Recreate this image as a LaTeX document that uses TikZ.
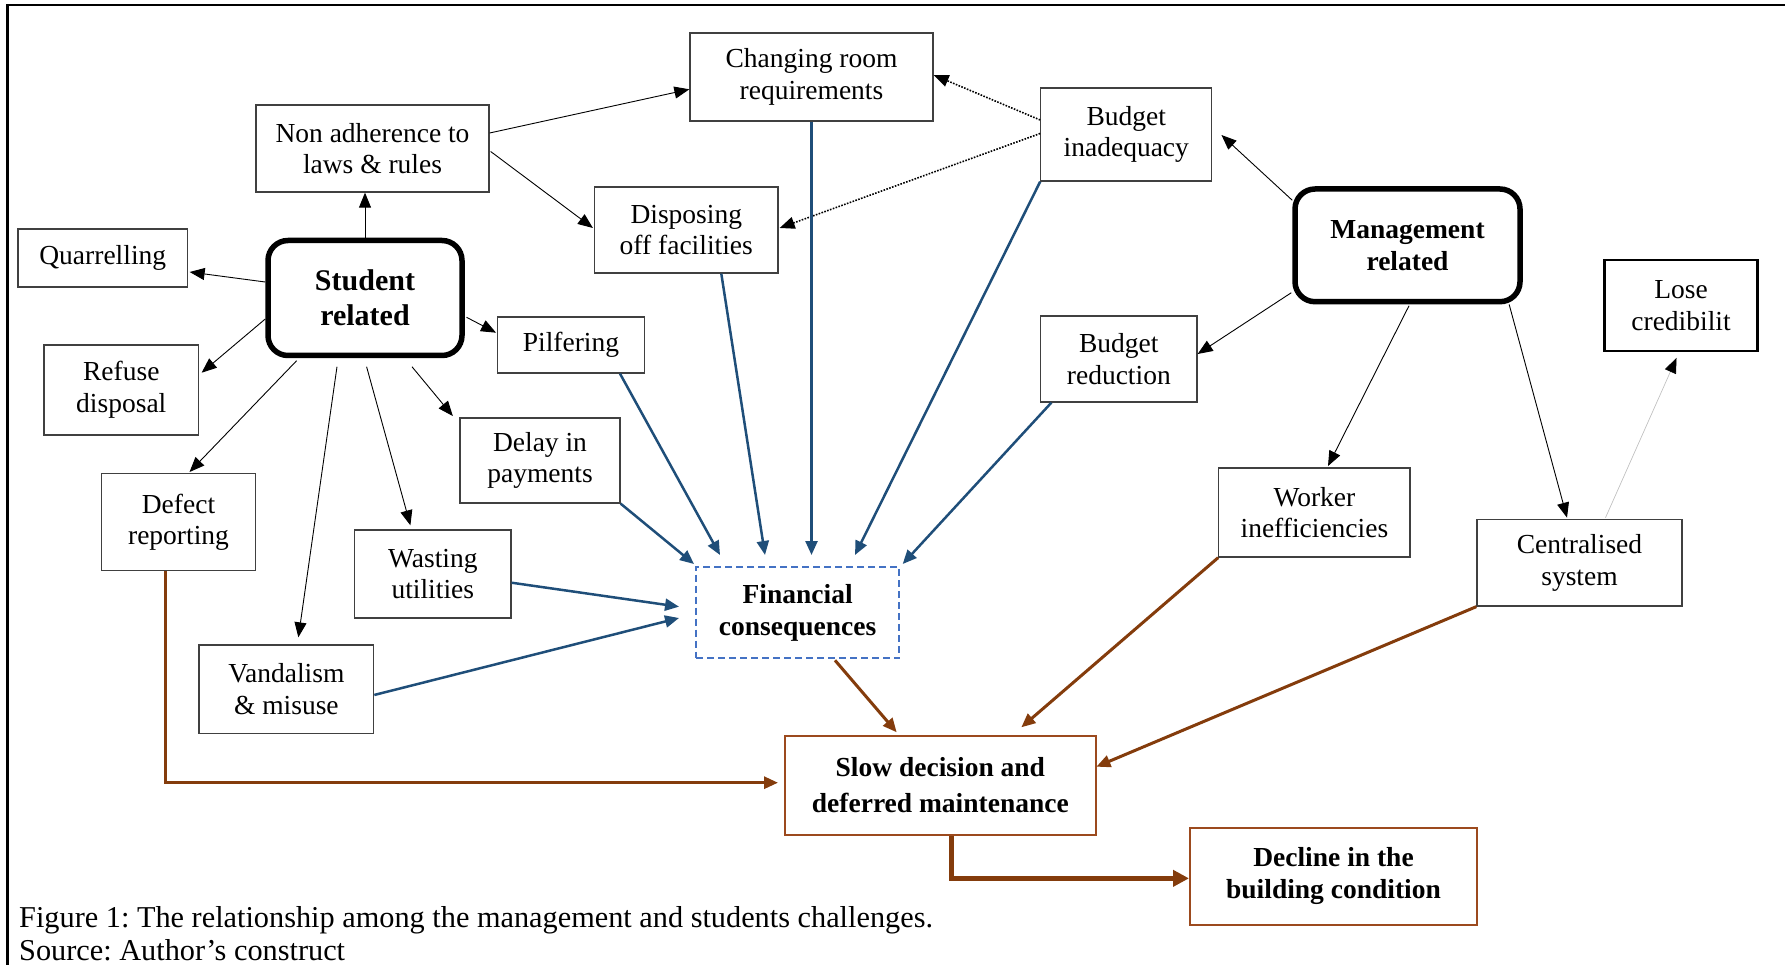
\documentclass[tikz,border=0pt]{standalone}
\usepackage{fontspec}
\setmainfont{Liberation Serif}
\usetikzlibrary{arrows.meta,calc}
\definecolor{bl}{HTML}{1F4E79}
\definecolor{br}{HTML}{843C0C}
\definecolor{dashblue}{HTML}{4472C4}
\definecolor{boxgray}{HTML}{404040}
\definecolor{boxbrown}{HTML}{9C4A1E}
\newcommand\rf{\fontsize{27.5}{31.6}\selectfont}
\newcommand\bfn{\fontsize{27.5}{32}\selectfont\bfseries}
\frenchspacing
\begin{document}
\begin{tikzpicture}[x=1pt,y=-1pt,
  box/.style={draw=boxgray,line width=1.3pt,inner sep=0pt,align=center,font=\rf},
  sz/.style 2 args={minimum width=#1pt,minimum height=#2pt},
  core/.style={draw=black,line width=5.5pt,rounded corners=20pt,inner sep=0pt,align=center,font=\bfn},
  blk/.style={draw=black,line width=0.9pt,-{Triangle[length=15pt,width=12pt]}},
  dotarr/.style={draw=black,line width=1.6pt,dash pattern=on 1.6pt off 1.4pt,-{Triangle[length=15pt,width=12pt]}},
  blu/.style={draw=bl,line width=2.5pt,-{Triangle[length=14pt,width=12pt]}},
  brn/.style={draw=br,line width=3pt,-{Triangle[length=14pt,width=12pt]}},
  captxt/.style={anchor=base west,inner sep=0pt,font=\fontsize{30.3}{32}\selectfont},
]
\useasboundingbox (0,0) rectangle (1785,965);
\draw[line width=2.5pt] (7.5,965) -- (7.5,5) -- (1785,5);

\node[box,sz={233}{87}] (nonad) at (372.5,148.5) {Non adherence to\\laws \& rules};
\node[box,sz={243}{88}] (chg) at (811.5,77) {Changing room\\requirements};
\node[box,sz={171}{93}] (binad) at (1126.3,134.5) {Budget\\inadequacy};
\node[box,sz={183.4}{86}] (disp) at (686.3,230) {Disposing\\off facilities};
\node[box,sz={156.4}{86}] (bred) at (1118.8,359) {Budget\\reduction};
\node[box,sz={169.5}{58}] (quar) at (102.75,258) {Quarrelling};
\node[core,sz={194}{115},font=\fontsize{30}{35}\selectfont\bfseries] (stud) at (365,298) {Student\\related};
\node[box,sz={154.6}{90}] (refuse) at (121.3,390) {Refuse\\disposal};
\node[box,sz={147}{56}] (pilf) at (571,345) {Pilfering};
\node[box,sz={160}{85}] (delay) at (540,460.5) {Delay in\\payments};
\node[box,sz={153.8}{97}] (defect) at (178.5,522.2) {Defect\\reporting};
\node[box,sz={156.2}{88}] (waste) at (432.8,574) {Wasting\\utilities};
\node[box,sz={174.7}{88.7}] (vand) at (286.35,689.35) {Vandalism\\\& misuse};
\node[box,draw=dashblue,line width=2pt,dash pattern=on 7pt off 4pt,sz={203.3}{91.6},font=\bfn] (fin) at (797.65,612.5) {Financial\\consequences};
\node[box,draw=boxbrown,line width=2pt,sz={311.3}{99},font=\fontsize{27.5}{36.4}\selectfont\bfseries] (slow) at (940.35,785.2) {Slow decision and\\deferred maintenance};
\node[box,draw=boxbrown,line width=2pt,sz={287}{97.3},font=\bfn] (decl) at (1333.5,876.35) {Decline in the\\building condition};
\node[core,sz={225}{112.7}] (mgmt) at (1407.5,245.35) {Management\\related};
\node[box,draw=black,line width=2.5pt,sz={152.7}{91}] (lose) at (1681,305.5) {Lose\\credibilit};
\node[box,sz={191.2}{89}] (worker) at (1314.4,512.5) {Worker\\inefficiencies};
\node[box,sz={205}{86.3}] (cent) at (1579.5,562.85) {Centralised\\system};

\node[captxt] (cap1) at (19,927) {Figure 1: The relationship among the management and students challenges.};
\node[captxt] (cap2) at (19,960) {Source: Author’s construct};

% student related
\draw[blk] (stud.north) -- (stud.north |- nonad.south);
\draw[blk] ([shift={(0,-16)}]stud.west) -- ([shift={(1.5,14)}]quar.east);
\draw[blk] ([shift={(0,21)}]stud.west) -- ([shift={(2.4,-17.3)}]refuse.east);
\draw[blk] ([shift={(-68.4,2.5)}]stud.south) -- ([shift={(11,-1)}]defect.north);
\draw[blk] ([shift={(-28,8.5)}]stud.south) -- ([shift={(12,-7)}]vand.north);
\draw[blk] ([shift={(1.6,8.5)}]stud.south) -- ([shift={(-22.4,-4)}]waste.north);
\draw[blk] ([shift={(47,8.5)}]stud.south) -- ([shift={(-6.5,-1.3)}]delay.north west);
\draw[blk] ([shift={(1.8,19.3)}]stud.east) -- ([shift={(-0.8,-12.3)}]pilf.west);
\draw[blk] ([shift={(0,-15.5)}]nonad.east) -- ([shift={(0,12.3)}]chg.west);
\draw[blk] ([shift={(1,3)}]nonad.east) -- ([shift={(-1,-2)}]disp.west);
% budget inadequacy dotted
\draw[dotarr] ([shift={(0,-14.5)}]binad.west) -- ([shift={(0,-2)}]chg.east);
\draw[dotarr] ([shift={(0,-1)}]binad.west) -- ([shift={(1,-2)}]disp.east);
% management related
\draw[blk] ([shift={(0,14)}]mgmt.north west) -- ([shift={(9,0.5)}]binad.east);
\draw[blk] ([shift={(-1,-11.7)}]mgmt.south west) -- ([shift={(0,-5)}]bred.east);
\draw[blk] ([shift={(1.5,1.3)}]mgmt.south) -- ([shift={(13.6,-1.3)}]worker.north);
\draw[blk] ([shift={(-13.6,0)}]mgmt.south east) -- ([shift={(-12.5,-1.4)}]cent.north);
\draw[draw=gray!55,line width=0.6pt,-{Triangle[length=15pt,width=12pt,color=black]}] ([shift={(26,-1.4)}]cent.north) -- ([shift={(-4.5,5.7)}]lose.south);
% blue to financial
\coordinate (ftop) at ([shift={(0,-10.7)}]fin.north);
\draw[blu] ([shift={(49,0)}]pilf.south) -- ([shift={(-77.65,0)}]ftop);
\draw[blu] (delay.south east) -- ([shift={(-1,-1.7)}]fin.north west);
\draw[blu] ([shift={(35,0)}]disp.south) -- ([shift={(-32.65,0)}]ftop);
\draw[blu] (chg.south) -- (chg.south |- ftop);
\draw[blu] (binad.south west) -- ([shift={(57.35,0)}]ftop);
\draw[blu] ([shift={(11.4,0)}]bred.south west) -- ([shift={(2.4,-1.7)}]fin.north east);
\draw[blu] ([shift={(0,8.7)}]waste.east) -- ([shift={(-16,-5.8)}]fin.west);
\draw[blu] ([shift={(0,5.6)}]vand.east) -- ([shift={(-16,5.5)}]fin.west);
% brown
\draw[brn] ([shift={(37.35,1)}]fin.south) -- ([shift={(-43.65,-2.4)}]slow.north);
\draw[brn] (worker.south west) -- ([shift={(81,-7.4)}]slow.north);
\draw[brn] (cent.south west) -- ([shift={(-0.6,-18.5)}]slow.east);
\draw[brn] ([shift={(-12.6,0)}]defect.south) |- ([shift={(-5.7,-2.5)}]slow.west);
\draw[brn,line width=5pt,-{Triangle[length=16pt,width=16pt]}] ([shift={(10.65,0)}]slow.south) |- ([shift={(0,2)}]decl.west);
\end{tikzpicture}
\end{document}
